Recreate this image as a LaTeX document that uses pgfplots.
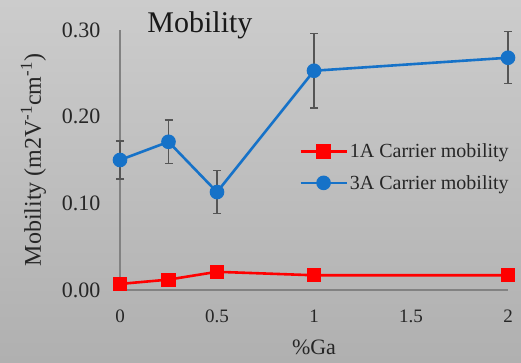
\documentclass[border=0pt]{standalone}
\usepackage{pgfplots}
\pgfplotsset{compat=1.18}
\usepackage{fontspec}
\setmainfont{Liberation Serif}
\definecolor{bgtop}{RGB}{204,204,204}
\definecolor{bgbot}{RGB}{176,176,176}
\definecolor{myblue}{RGB}{22,114,200}
\definecolor{axgray}{RGB}{130,130,130}
\definecolor{errgray}{RGB}{85,85,85}
\begin{document}
\begin{tikzpicture}[x=1pt,y=1pt]
\fill[top color=bgtop,bottom color=bgbot] (-120,-72) rectangle (401,290);
\useasboundingbox (-120,-72) rectangle (401,290);
\begin{axis}[
  at={(0,0)}, anchor=origin,
  scale only axis, width=388pt, height=260pt,
  xmin=0, xmax=2, ymin=0, ymax=0.30,
  clip=false,
  axis x line*=bottom, axis y line*=left,
  axis line style={axgray, line width=1.3pt, -},
  major tick length=0pt,
  xtick={0,0.5,1,1.5,2},
  xticklabels={0,0.5,1,1.5,2},
  ytick={0,0.1,0.2,0.3},
  yticklabels={0.00,0.10,0.20,0.30},
  xticklabel style={font=\fontsize{19}{22}\selectfont, text=black!85, yshift=-16pt},
  yticklabel style={font=\fontsize{22}{26}\selectfont, text=black!85, xshift=-16pt},
  xlabel={\%Ga},
  xlabel style={font=\fontsize{22}{26}\selectfont, text=black!85, yshift=-11pt},
  ylabel={Mobility (m2V\textsuperscript{-1}cm\textsuperscript{-1})},
  ylabel style={font=\fontsize{24}{28}\selectfont, text=black!85, yshift=9pt},
  title={Mobility},
  title style={font=\fontsize{30}{34}\selectfont, text=black!90, at={(rel axis cs:0.206,1)}, anchor=base, yshift=-8pt},
  legend style={at={(rel axis cs:0.462,0.57)}, anchor=north west, draw=none, fill=none,
    font=\fontsize{20}{24}\selectfont, text=black!85, row sep=12pt,
    inner sep=0pt, outer sep=0pt,
    /tikz/every even column/.append style={column sep=0pt}},
  legend cell align=left,
  legend image code/.code={\draw[mark repeat=2,mark phase=2] plot coordinates {(0pt,0pt)(23pt,0pt)(46pt,0pt)};},
]
\addplot[red, line width=2.6pt, mark=square*, mark size=5.8pt, mark options={solid}]
  coordinates {(0,0.007) (0.25,0.012) (0.5,0.021) (1,0.017) (2,0.017)};
\addlegendentry{1A Carrier mobility}
\addplot[myblue, line width=2.6pt, mark=*, mark size=6pt,
  error bars/.cd, y dir=both, y explicit,
  error bar style={errgray, line width=1.3pt},
  error mark options={rotate=90, mark size=4pt, errgray, line width=1.3pt}]
  coordinates {(0,0.150) +- (0,0.022) (0.25,0.171) +- (0,0.025) (0.5,0.113) +- (0,0.025) (1,0.253) +- (0,0.043) (2,0.268) +- (0,0.030)};
\addlegendentry{3A Carrier mobility}
\end{axis}
\end{tikzpicture}
\end{document}
